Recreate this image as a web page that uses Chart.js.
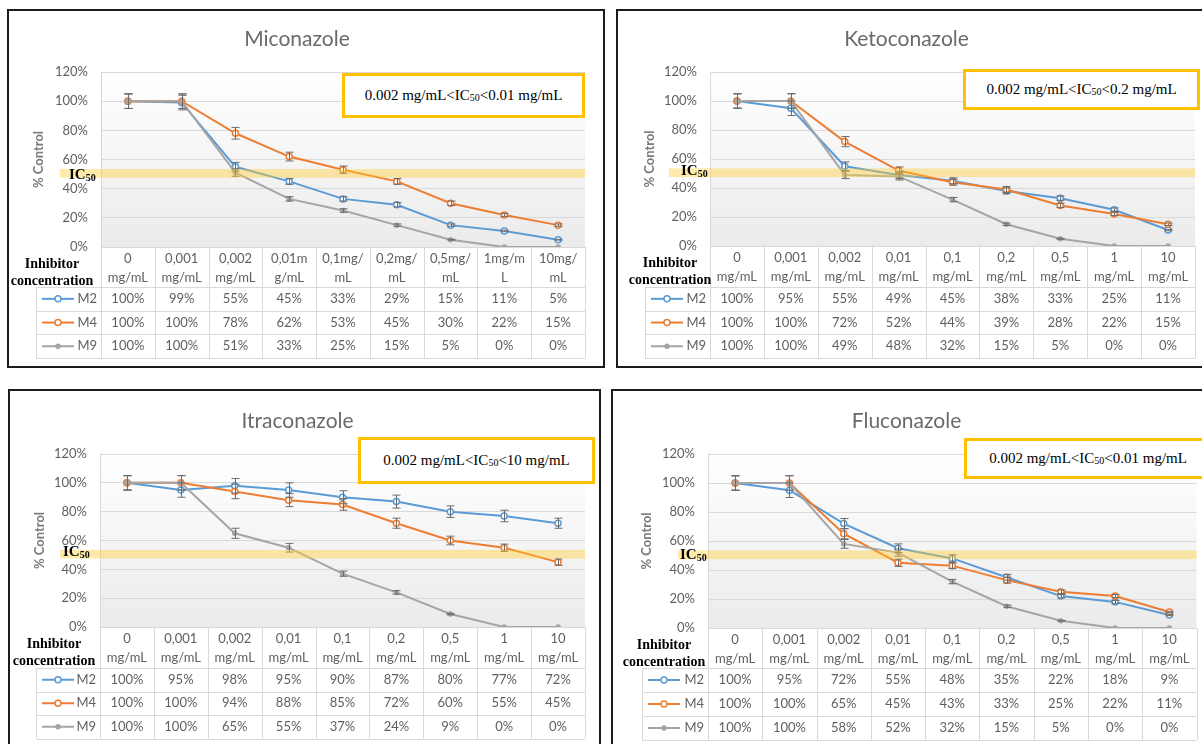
<!DOCTYPE html>
<html>
<head>
<meta charset="utf-8">
<script src="https://cdn.jsdelivr.net/npm/chart.js@4.4.0/dist/chart.umd.min.js"></script>
<style>
  body { margin: 0; width: 1202px; height: 744px; overflow: hidden; background: #fff; position: relative; font-family: Lato, sans-serif; }
  .panel { position: absolute; border: 2px solid #1c1c1c; box-sizing: border-box; }
  canvas { position: absolute; }
  .ic-box { position: absolute; border: 3px solid #ffc000; box-sizing: border-box; background: #fff;
            font-family: 'Liberation Serif', 'Times New Roman', serif; font-size: 15px; color: #000;
            display: flex; align-items: center; justify-content: center; white-space: nowrap; }
  .ic-lbl { position: absolute; font-family: 'Liberation Serif', serif; font-weight: bold; font-size: 15px; line-height: 16px; color: #000; }
  .ic-box sub, .ic-lbl sub { font-size: 10px; vertical-align: baseline; position: relative; top: 2px; }
</style>
</head>
<body>
<script>
// ---- data ----
const concLabelsMico = [['0','mg/mL'],['0,001','mg/mL'],['0,002','mg/mL'],['0,01m','g/mL'],['0,1mg/','mL'],['0,2mg/','mL'],['0,5mg/','mL'],['1mg/m','L'],['10mg/','mL']];
const concLabels = [['0','mg/mL'],['0,001','mg/mL'],['0,002','mg/mL'],['0,01','mg/mL'],['0,1','mg/mL'],['0,2','mg/mL'],['0,5','mg/mL'],['1','mg/mL'],['10','mg/mL']];
const seriesNames = ['M2', 'M4', 'M9'];
const yTicks = [0, 20, 40, 60, 80, 100, 120];
const ic50Band = [47.5, 53.5];

const miconazoleM2 = [100, 99, 55, 45, 33, 29, 15, 11, 5];
const miconazoleM4 = [100, 100, 78, 62, 53, 45, 30, 22, 15];
const miconazoleM9 = [100, 100, 51, 33, 25, 15, 5, 0, 0];
const miconazoleM2Err = [5, 5, 3, 2, 1.5, 1.5, 0.8, 0.5, 0.3];
const miconazoleM4Err = [5, 5, 4, 3, 2.5, 2, 1.5, 1, 0.8];
const miconazoleM9Err = [5, 5, 2.5, 1.5, 1.2, 0.8, 0.3, 0, 0];

const ketoconazoleM2 = [100, 95, 55, 49, 45, 38, 33, 25, 11];
const ketoconazoleM4 = [100, 100, 72, 52, 44, 39, 28, 22, 15];
const ketoconazoleM9 = [100, 100, 49, 48, 32, 15, 5, 0, 0];
const ketoconazoleM2Err = [5, 5, 3, 2.5, 2, 2, 1.5, 1.2, 0.5];
const ketoconazoleM4Err = [5, 5, 3.5, 2.5, 2, 2, 1.5, 1, 0.8];
const ketoconazoleM9Err = [5, 5, 2.5, 2.5, 1.5, 0.8, 0.3, 0, 0];

const itraconazoleM2 = [100, 95, 98, 95, 90, 87, 80, 77, 72];
const itraconazoleM4 = [100, 100, 94, 88, 85, 72, 60, 55, 45];
const itraconazoleM9 = [100, 100, 65, 55, 37, 24, 9, 0, 0];
const itraconazoleM2Err = [5, 5, 5, 5, 4.5, 4.5, 4, 4, 3.5];
const itraconazoleM4Err = [5, 5, 5, 4.5, 4, 3.5, 3, 2.5, 2.2];
const itraconazoleM9Err = [5, 5, 3.5, 3, 1.8, 1.2, 0.5, 0, 0];

const fluconazoleM2 = [100, 95, 72, 55, 48, 35, 22, 18, 9];
const fluconazoleM4 = [100, 100, 65, 45, 43, 33, 25, 22, 11];
const fluconazoleM9 = [100, 100, 58, 52, 32, 15, 5, 0, 0];
const fluconazoleM2Err = [5, 5, 3.5, 3, 2.5, 2, 1.2, 1, 0.5];
const fluconazoleM4Err = [5, 5, 3.5, 2.5, 2, 2, 1.2, 1, 0.5];
const fluconazoleM9Err = [5, 5, 3, 2.5, 1.5, 0.8, 0.3, 0, 0];

// ---- styles ----
const seriesColors = ['#5b9bd5', '#ed7d31', '#a5a5a5'];
const textGrey = '#5f5f5f';
const gridGrey = '#d9d9d9';

// ---- panel layout (page pixels) ----
const panels = [
  { title: 'Miconazole', labels: concLabelsMico,
    series: [miconazoleM2, miconazoleM4, miconazoleM9], errs: [miconazoleM2Err, miconazoleM4Err, miconazoleM9Err],
    range: ['0.002 mg/mL<IC', '50', '<0.01 mg/mL'],
    border: [7, 9, 605, 368], canvas: [9, 11, 594, 355], area: [101, 72, 585, 247],
    titleY: 39, yTitleX: 39, tableLeft: 36, inhibX: 52, bandLeft: 60, icLbl: [69, 175],
    box: [342, 73, 585, 118], headH: 40, rowH: 23.7 },
  { title: 'Ketoconazole', labels: concLabels,
    series: [ketoconazoleM2, ketoconazoleM4, ketoconazoleM9], errs: [ketoconazoleM2Err, ketoconazoleM4Err, ketoconazoleM9Err],
    range: ['0.002 mg/mL<IC', '50', '<0.2 mg/mL'],
    border: [616, 9, 1212, 368], canvas: [618, 11, 584, 355], area: [710, 72, 1195, 246],
    titleY: 39, yTitleX: 650, tableLeft: 645, inhibX: 670, bandLeft: 669, icLbl: [681, 171],
    box: [963, 69, 1200, 110], headH: 41, rowH: 23.7 },
  { title: 'Itraconazole', labels: concLabels,
    series: [itraconazoleM2, itraconazoleM4, itraconazoleM9], errs: [itraconazoleM2Err, itraconazoleM4Err, itraconazoleM9Err],
    range: ['0.002 mg/mL<IC', '50', '<10 mg/mL'],
    border: [8, 389, 601, 760], canvas: [10, 391, 589, 353], area: [100, 454, 585, 627],
    titleY: 421, yTitleX: 40, tableLeft: 36, inhibX: 54, bandLeft: 60, icLbl: [63, 552],
    box: [358, 437, 595, 484], headH: 41, rowH: 23.5 },
  { title: 'Fluconazole', labels: concLabels,
    series: [fluconazoleM2, fluconazoleM4, fluconazoleM9], errs: [fluconazoleM2Err, fluconazoleM4Err, fluconazoleM9Err],
    range: ['0.002 mg/mL<IC', '50', '<0.01 mg/mL'],
    border: [611, 389, 1212, 760], canvas: [613, 391, 589, 353], area: [708, 454, 1200, 628],
    titleY: 421, yTitleX: 647, tableLeft: 642, inhibX: 664, bandLeft: 678, icLbl: [680, 555],
    box: [964, 438, 1212, 479], headH: 40, rowH: 24 }
];

// plot area gradient
const plotBackground = {
  id: 'plotBackground',
  beforeDraw(chart) {
    const { ctx, chartArea: a } = chart;
    const g = ctx.createLinearGradient(0, a.top, 0, a.bottom);
    g.addColorStop(0, '#ffffff');
    g.addColorStop(1, '#ebebeb');
    ctx.save();
    ctx.fillStyle = g;
    ctx.fillRect(a.left, a.top, a.right - a.left, a.bottom - a.top);
    ctx.restore();
  }
};

// vertical error bars with caps
const errorBars = {
  id: 'errorBars',
  afterDatasetsDraw(chart) {
    const ctx = chart.ctx, y = chart.scales.y;
    ctx.save();
    ctx.strokeStyle = '#6b6b6b';
    ctx.lineWidth = 1;
    chart.data.datasets.forEach((ds, di) => {
      const meta = chart.getDatasetMeta(di);
      meta.data.forEach((pt, i) => {
        const e = ds.err[i];
        if (!e) return;
        const v = ds.data[i];
        const y1 = y.getPixelForValue(v + e), y2 = y.getPixelForValue(v - e);
        const px = Math.round(pt.x) + 0.5;
        ctx.beginPath();
        ctx.moveTo(px, y1); ctx.lineTo(px, y2);
        ctx.moveTo(px - 4, y1); ctx.lineTo(px + 4, y1);
        ctx.moveTo(px - 4, y2); ctx.lineTo(px + 4, y2);
        ctx.stroke();
      });
    });
    ctx.restore();
  }
};

// translucent IC50 band
const icBand = {
  id: 'icBand',
  afterDatasetsDraw(chart, args, o) {
    const ctx = chart.ctx, y = chart.scales.y, a = chart.chartArea;
    const top = y.getPixelForValue(ic50Band[1]), bot = y.getPixelForValue(ic50Band[0]);
    ctx.save();
    ctx.fillStyle = 'rgba(255, 204, 51, 0.42)';
    ctx.fillRect(o.left, top, a.right - o.left, bot - top);
    ctx.restore();
  }
};

// data table under the x axis
const dataTable = {
  id: 'dataTable',
  afterDraw(chart, args, o) {
    const ctx = chart.ctx, x = chart.scales.x, a = chart.chartArea;
    const n = chart.data.labels.length;
    const colW = (a.right - a.left) / n;
    const hdrBottom = a.bottom + o.headH;
    const rows = chart.data.datasets.length;
    const bottom = hdrBottom + rows * o.rowH;
    ctx.save();
    ctx.strokeStyle = gridGrey;
    ctx.lineWidth = 1;
    ctx.beginPath();
    for (let r = 0; r <= rows; r++) {
      const yy = Math.round(hdrBottom + r * o.rowH) + 0.5;
      ctx.moveTo(o.left, yy); ctx.lineTo(a.right, yy);
    }
    for (let i = 0; i < n; i++) {
      const xx = Math.round(x.getPixelForValue(i) + colW / 2) + 0.5;
      ctx.moveTo(xx, a.bottom); ctx.lineTo(xx, bottom);
    }
    const xl = Math.round(a.left) + 0.5;
    ctx.moveTo(xl, a.bottom); ctx.lineTo(xl, bottom);
    ctx.moveTo(o.left + 0.5, hdrBottom); ctx.lineTo(o.left + 0.5, bottom);
    ctx.stroke();

    ctx.font = '13px Lato';
    ctx.textBaseline = 'middle';
    chart.data.datasets.forEach((ds, r) => {
      const cy = hdrBottom + (r + 0.5) * o.rowH;
      // legend key
      const x0 = o.left + 6, x1 = o.left + 38, xm = (x0 + x1) / 2;
      ctx.strokeStyle = ds.borderColor;
      ctx.lineWidth = 2;
      ctx.beginPath(); ctx.moveTo(x0, cy); ctx.lineTo(x1, cy); ctx.stroke();
      ctx.beginPath(); ctx.arc(xm, cy, ds.pointRadius, 0, Math.PI * 2);
      ctx.fillStyle = ds.pointBackgroundColor; ctx.fill();
      ctx.lineWidth = 1.5; ctx.stroke();
      ctx.fillStyle = textGrey;
      ctx.textAlign = 'right';
      ctx.fillText(ds.label, a.left - 4, cy);
      ctx.textAlign = 'center';
      ds.data.forEach((v, i) => ctx.fillText(v + '%', x.getPixelForValue(i), cy));
    });

    ctx.fillStyle = '#000';
    ctx.font = 'bold 14px "Liberation Serif", "Times New Roman", serif';
    ctx.textAlign = 'center';
    ctx.fillText('Inhibitor', o.inhibX, a.bottom + 17);
    ctx.fillText('concentration', o.inhibX, a.bottom + 34);
    ctx.restore();
  }
};

panels.forEach(p => {
  const [bl, bt, br, bb] = p.border;
  const frame = document.createElement('div');
  frame.className = 'panel';
  Object.assign(frame.style, { left: bl + 'px', top: bt + 'px', width: (br - bl) + 'px', height: (bb - bt) + 'px' });
  document.body.appendChild(frame);

  const [cl, ct, cw, ch] = p.canvas;
  const [al, at, ar, ab] = p.area;
  const cv = document.createElement('canvas');
  cv.width = cw; cv.height = ch;
  Object.assign(cv.style, { left: cl + 'px', top: ct + 'px', width: cw + 'px', height: ch + 'px' });
  document.body.appendChild(cv);

  const titleLH = 25;
  const padTop = p.titleY - ct - titleLH / 2;
  const padBottom = at - ct - padTop - titleLH;
  const yWidth = al - cl;
  const xHeight = ct + ch - ab;

  const datasets = seriesNames.map((name, i) => ({
    label: name,
    data: p.series[i],
    err: p.errs[i],
    borderColor: seriesColors[i],
    borderWidth: 2,
    pointRadius: i < 2 ? 3 : 2,
    pointBorderWidth: 1.5,
    pointBackgroundColor: i < 2 ? '#ffffff' : seriesColors[i],
    pointBorderColor: seriesColors[i],
    tension: 0,
    order: 2 - i
  }));

  new Chart(cv.getContext('2d'), {
    type: 'line',
    data: { labels: p.labels, datasets },
    plugins: [plotBackground, errorBars, icBand, dataTable],
    options: {
      responsive: false,
      animation: false,
      devicePixelRatio: 1,
      layout: { padding: { left: 0, top: 0, bottom: 0, right: cl + cw - ar } },
      plugins: {
        legend: { display: false },
        tooltip: { enabled: false },
        title: {
          display: true, text: p.title, color: '#6a6a6a',
          font: { family: 'Lato', size: 21, weight: 'normal', lineHeight: titleLH + 'px' },
          padding: { top: padTop, bottom: padBottom }
        },
        icBand: { left: p.bandLeft - cl },
        dataTable: { left: p.tableLeft - cl, inhibX: p.inhibX - cl, headH: p.headH, rowH: p.rowH }
      },
      scales: {
        x: {
          offset: true,
          grid: { display: false, drawTicks: false },
          border: { display: false },
          ticks: { autoSkip: false, maxRotation: 0, padding: 2, color: textGrey,
                   font: { family: 'Lato', size: 13, lineHeight: '19px' } },
          afterFit(s) { s.height = xHeight; }
        },
        y: {
          min: yTicks[0], max: yTicks[yTicks.length - 1],
          afterBuildTicks(s) { s.ticks = yTicks.map(v => ({ value: v })); },
          grid: { color: gridGrey, drawTicks: false },
          border: { display: true, color: gridGrey },
          ticks: { padding: 13, color: textGrey, font: { family: 'Lato', size: 13 }, callback: v => v + '%' },
          title: { display: true, text: '% Control', color: '#7a7a7a',
                   font: { family: 'Lato', size: 13, weight: 'bold' },
                   padding: { top: p.yTitleX - cl - 8, bottom: 0 } },
          afterFit(s) { s.width = yWidth; }
        }
      }
    }
  });

  // IC50 range box
  const [xl, yt, xr, yb] = p.box;
  const box = document.createElement('div');
  box.className = 'ic-box';
  Object.assign(box.style, { left: xl + 'px', top: yt + 'px', width: (xr - xl) + 'px', height: (yb - yt) + 'px' });
  const sub = document.createElement('sub');
  sub.textContent = p.range[1];
  box.append(document.createTextNode(p.range[0]), sub, document.createTextNode(p.range[2]));
  document.body.appendChild(box);

  // IC50 label on the band
  const lbl = document.createElement('div');
  lbl.className = 'ic-lbl';
  Object.assign(lbl.style, { left: p.icLbl[0] + 'px', top: (p.icLbl[1] - 9) + 'px' });
  const s2 = document.createElement('sub');
  s2.textContent = '50';
  lbl.append(document.createTextNode('IC'), s2);
  document.body.appendChild(lbl);
});
</script>
</body>
</html>
